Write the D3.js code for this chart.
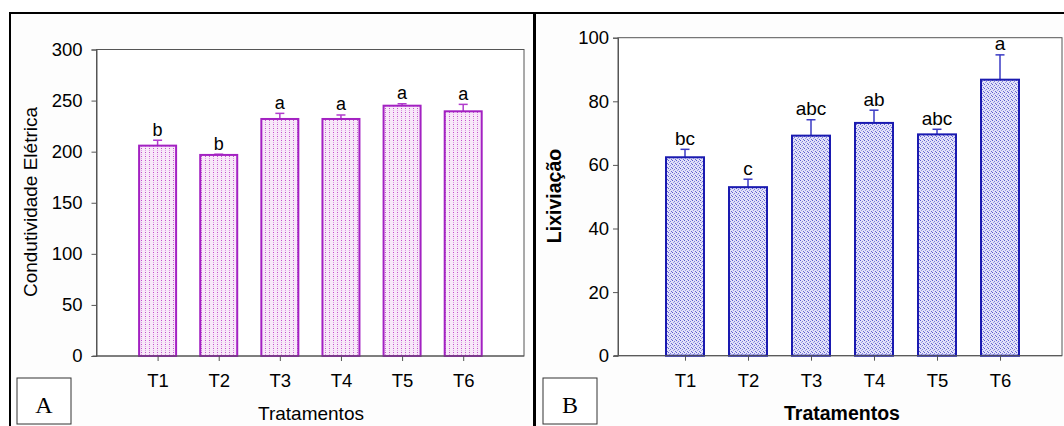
<!DOCTYPE html>
<html>
<head>
<meta charset="utf-8">
<script src="https://cdn.jsdelivr.net/npm/d3@7"></script>
<style>
  body { margin: 0; background: #fff; }
  svg { display: block; font-family: Arial, "Liberation Sans", sans-serif; }
</style>
</head>
<body>
<svg id="chart" width="1064" height="426"></svg>
<script>
// dados
const tratamentos = ["T1", "T2", "T3", "T4", "T5", "T6"];

const condutividade = [205.9, 196.8, 232, 232, 245, 239.5];
const condutividadeErro = [5.3, 0.7, 5.5, 3.9, 1.9, 6.8];
const condutividadeLetras = ["b", "b", "a", "a", "a", "a"];
const condutividadeTicks = [0, 50, 100, 150, 200, 250, 300];

const lixiviacao = [62.4, 53, 69.2, 73.2, 69.6, 86.8];
const lixiviacaoErro = [2.5, 2.5, 5, 4, 1.6, 7.8];
const lixiviacaoLetras = ["bc", "c", "abc", "ab", "abc", "a"];
const lixiviacaoTicks = [0, 20, 40, 60, 80, 100];

const svg = d3.select("#chart");
const defs = svg.append("defs");

// pattern rosa (painel A)
let pA = defs.append("pattern")
  .attr("id", "dotsA")
  .attr("patternUnits", "userSpaceOnUse")
  .attr("width", 4).attr("height", 4);
pA.append("rect").attr("width", 4).attr("height", 4).attr("fill", "#f8e8f9");
pA.append("rect").attr("x", 1).attr("y", 0).attr("width", 1).attr("height", 1).attr("fill", "#c24fcc");
pA.append("rect").attr("x", 1).attr("y", 2).attr("width", 1).attr("height", 1).attr("fill", "#dc9ae2");

// pattern azul (painel B)
let pB = defs.append("pattern")
  .attr("id", "dotsB")
  .attr("patternUnits", "userSpaceOnUse")
  .attr("width", 4).attr("height", 4);
pB.append("rect").attr("width", 4).attr("height", 4).attr("fill", "#e2e2f8");
pB.append("rect").attr("x", 0).attr("y", 0).attr("width", 1).attr("height", 1).attr("fill", "#5a5ad0");
pB.append("rect").attr("x", 2).attr("y", 1).attr("width", 1).attr("height", 1).attr("fill", "#7c7cdc");
pB.append("rect").attr("x", 1).attr("y", 2).attr("width", 1).attr("height", 1).attr("fill", "#9a9ae4");
pB.append("rect").attr("x", 3).attr("y", 3).attr("width", 1).attr("height", 1).attr("fill", "#6a6ad4");

// molduras dos painéis
svg.append("rect")
  .attr("x", 10).attr("y", 13).attr("width", 524.5).attr("height", 420)
  .attr("fill", "#fdfdfd").attr("stroke", "#000").attr("stroke-width", 2);
svg.append("rect")
  .attr("x", 534.5).attr("y", 13).attr("width", 540).attr("height", 420)
  .attr("fill", "#fdfdfd").attr("stroke", "#000").attr("stroke-width", 2);
svg.append("line")
  .attr("x1", 534.5).attr("x2", 534.5).attr("y1", 12).attr("y2", 426)
  .attr("stroke", "#000").attr("stroke-width", 3);

function drawPanel(opts) {
  const g = svg.append("g");

  const y = d3.scaleLinear()
    .domain([0, d3.max(opts.ticks)])
    .range([opts.bottom, opts.top]);

  const x = d3.scalePoint()
    .domain(tratamentos)
    .range([opts.firstX, opts.lastX]);

  // área do gráfico
  g.append("rect")
    .attr("x", opts.left).attr("y", opts.top)
    .attr("width", opts.right - opts.left)
    .attr("height", opts.bottom - opts.top)
    .attr("fill", "#fff")
    .attr("stroke", "#555").attr("stroke-width", 1);

  const data = tratamentos.map((t, i) => ({
    t: t, v: opts.values[i], e: opts.errors[i], l: opts.letters[i]
  }));

  // barras de erro (atrás das barras)
  g.selectAll(".err")
    .data(data)
    .enter()
    .append("line")
    .attr("x1", (d) => x(d.t)).attr("x2", (d) => x(d.t))
    .attr("y1", (d) => y(d.v)).attr("y2", (d) => y(d.v + d.e))
    .attr("stroke", opts.errColor).attr("stroke-width", 1.5);
  g.selectAll(".cap")
    .data(data)
    .enter()
    .append("line")
    .attr("x1", (d) => x(d.t) - 4.5).attr("x2", (d) => x(d.t) + 4.5)
    .attr("y1", (d) => y(d.v + d.e)).attr("y2", (d) => y(d.v + d.e))
    .attr("stroke", opts.errColor).attr("stroke-width", 1.5);

  g.selectAll(".bar")
    .data(data)
    .enter()
    .append("rect")
    .attr("class", "bar")
    .attr("x", (d) => x(d.t) - opts.barW / 2)
    .attr("y", (d) => y(d.v))
    .attr("width", opts.barW)
    .attr("height", (d) => y(0) - y(d.v))
    .attr("fill", opts.fill)
    .attr("stroke", opts.stroke)
    .attr("stroke-width", 2);

  g.selectAll(".letra")
    .data(data)
    .enter()
    .append("text")
    .attr("x", (d) => x(d.t))
    .attr("y", (d) => y(d.v + d.e) - 4.5)
    .attr("text-anchor", "middle")
    .attr("font-size", opts.letterSize)
    .attr("fill", "#000")
    .text((d) => d.l);

  // eixos
  const yAxis = d3.axisLeft(y)
    .tickValues(opts.ticks)
    .tickSize(5)
    .tickPadding(opts.yPad);
  const ga = g.append("g")
    .attr("transform", `translate(${opts.left},0)`)
    .call(yAxis);
  ga.select(".domain").attr("stroke", "#555");
  ga.selectAll(".tick line").attr("stroke", "#555");
  ga.selectAll("text").attr("font-size", 18.5).attr("fill", "#000")
    .attr("font-family", "Arial, 'Liberation Sans', sans-serif");

  const xAxis = d3.axisBottom(x)
    .tickSize(5)
    .tickPadding(13);
  const gx = g.append("g")
    .attr("transform", `translate(0,${opts.bottom})`)
    .call(xAxis);
  gx.select(".domain").remove();
  gx.append("line")
    .attr("x1", opts.left - 4).attr("x2", opts.right)
    .attr("stroke", "#555");
  gx.selectAll(".tick line").attr("stroke", "#555");
  gx.selectAll("text").attr("font-size", 18.5).attr("fill", "#000")
    .attr("font-family", "Arial, 'Liberation Sans', sans-serif");

  // títulos dos eixos
  g.append("text")
    .attr("transform", `translate(${opts.yLabelX},${opts.yLabelY}) rotate(-90)`)
    .attr("text-anchor", "middle")
    .attr("font-size", opts.labelSize)
    .attr("font-weight", opts.bold ? "bold" : "normal")
    .text(opts.yLabel);

  g.append("text")
    .attr("x", opts.xLabelX)
    .attr("y", 420)
    .attr("text-anchor", "middle")
    .attr("font-size", opts.labelSize)
    .attr("font-weight", opts.bold ? "bold" : "normal")
    .text("Tratamentos");

  // caixa com a letra do painel
  g.append("rect")
    .attr("x", opts.boxX).attr("y", 378)
    .attr("width", 54).attr("height", 46)
    .attr("fill", "#fff").attr("stroke", "#333").attr("stroke-width", 1);
  g.append("text")
    .attr("x", opts.boxX + 27).attr("y", 413)
    .attr("text-anchor", "middle")
    .attr("font-family", "'Times New Roman', 'Liberation Serif', serif")
    .attr("font-size", 24)
    .text(opts.panel);
}

drawPanel({
  panel: "A",
  values: condutividade, errors: condutividadeErro, letters: condutividadeLetras,
  ticks: condutividadeTicks,
  left: 96.5, right: 524, top: 49.5, bottom: 356,
  firstX: 157.6, lastX: 463.2,
  barW: 37, yPad: 9,
  fill: "url(#dotsA)", stroke: "#a321c2", errColor: "#b13ccc",
  letterSize: 18, labelSize: 19, bold: false,
  yLabel: "Condutividade Elétrica", yLabelX: 37, yLabelY: 202, xLabelX: 311,
  boxX: 17
});

drawPanel({
  panel: "B",
  values: lixiviacao, errors: lixiviacaoErro, letters: lixiviacaoLetras,
  ticks: lixiviacaoTicks,
  left: 618, right: 1062, top: 37.7, bottom: 355.7,
  firstX: 685, lastX: 1000,
  barW: 38, yPad: 4,
  fill: "url(#dotsB)", stroke: "#1a1ab0", errColor: "#3a3ac4",
  letterSize: 19, labelSize: 19.5, bold: true,
  yLabel: "Lixiviação", yLabelX: 561, yLabelY: 196, xLabelX: 842,
  boxX: 543
});
</script>
</body>
</html>
